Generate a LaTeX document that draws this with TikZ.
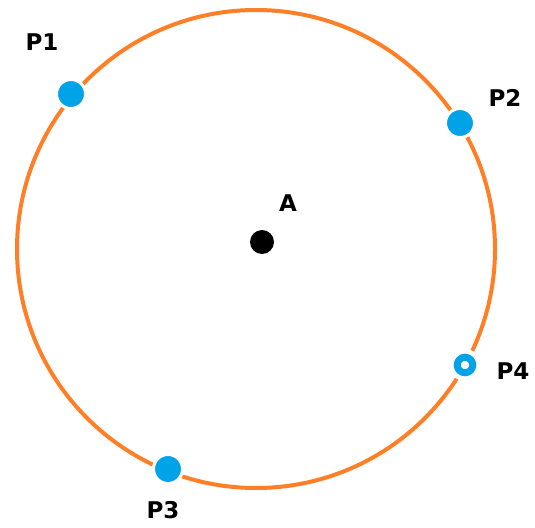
\documentclass[tikz,border=0pt]{standalone}
\usepackage{fontspec}
\setmainfont{DejaVu Sans}
\usepackage{tikz}
\usetikzlibrary{positioning}
\definecolor{paintorange}{HTML}{FF7F27}
\definecolor{paintblue}{HTML}{00A2E8}

\begin{document}
\begin{tikzpicture}[
    x=1pt, y=-1pt,
    dot/.style={circle, fill=paintblue, draw=white, line width=3pt, inner sep=0pt, minimum size=29pt},
    hollow/.style={circle, fill=white, draw=paintblue, line width=7pt, inner sep=0pt, minimum size=15.5pt},
    lbl/.style={font=\fontsize{23}{28}\selectfont\bfseries, inner sep=0pt}
]
    \useasboundingbox (0,0) rectangle (535,527);

    % Circle
    \node[circle, draw=paintorange, line width=4pt, minimum size=478pt, inner sep=0pt] (ring) at (256,249) {};

    % Centre
    \node[circle, fill=black, inner sep=0pt, minimum size=24pt] (a) at (262,242) {};
    \node[lbl] (alabel) at (288,203) {A};

    % Points on the circle
    \node[dot] (p1) at (71,94) {};
    \node[dot] (p2) at (460,123) {};
    \node[dot] (p3) at (168,469) {};
    \node[draw=white, circle, line width=3pt, minimum size=29pt, inner sep=0pt, fill=white] (p4back) at (465,365) {};
    \node[hollow] (p4) at (465,365) {};

    % Labels
    \node[lbl] (p1label) at (42,42) {P1};
    \node[lbl] (p2label) at (505,98) {P2};
    \node[lbl] (p3label) at (163,510) {P3};
    \node[lbl] (p4label) at (513,371) {P4};
\end{tikzpicture}
\end{document}
